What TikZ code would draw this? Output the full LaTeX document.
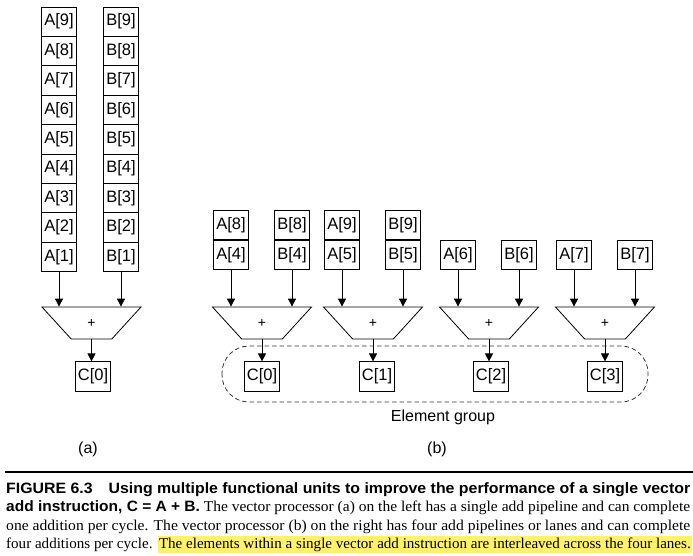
\documentclass[tikz,border=0pt]{standalone}
\usepackage{fontspec}
\usepackage{graphicx}
\setmainfont{Liberation Serif}
\setsansfont{Liberation Sans}
\newfontfamily\capsans{Liberation Sans}
\usetikzlibrary{shapes.geometric,arrows.meta,positioning}
\definecolor{hilite}{RGB}{255,240,110}
\tikzset{
  cell/.style={draw, line width=0.8pt, minimum width=35pt, minimum height=29.4pt,
    inner sep=0pt, font=\sffamily\fontsize{16.5}{16.5}\selectfont},
  adder/.style={draw, line width=0.8pt, trapezium, trapezium angle=126,
    trapezium stretches=true, minimum width=99pt, minimum height=32pt,
    inner sep=0pt, font=\sffamily\fontsize{14}{14}\selectfont},
  feed/.style={-{Triangle[length=8pt,width=8pt]}, line width=0.9pt},
  group/.style={draw=black!80, dashed, dash pattern=on 4.5pt off 3pt, line width=0.8pt, rounded corners=27pt},
  label/.style={font=\sffamily\fontsize{16}{16}\selectfont},
  capline/.style={anchor=base west, inner sep=0pt, font=\fontsize{15}{15}\selectfont}
}
\begin{document}
\begin{tikzpicture}[x=1pt, y=-1pt]
  \useasboundingbox (0,0) rectangle (693,555);
  \foreach \i in {1,...,9} {
    \node[cell] (a\i) at (59, {21.7+(9-\i)*29.4}) {A[\i]};
    \node[cell] (b\i) at (121, {21.7+(9-\i)*29.4}) {B[\i]};
  }
  \node[adder] (add) at (91.5,323) {+};
  \draw[feed] (a1) -- (a1 |- add.north);
  \draw[feed] (b1) -- (b1 |- add.north);
  \node[cell] (c) at (93,376.5) {C[0]};
  \draw[feed] (add.south) -- (add.south |- c.north);
  \node[label] (parta) at (88,449) {(a)};

  \foreach \k/\t/\cx/\n in {0/262/262/4, 1/373/377/5, 2/489/491/6, 3/605/605/7} {
    \node[cell] (la\k) at ({\t-31},255) {A[\n]};
    \node[cell] (lb\k) at ({\t+30},255) {B[\n]};
    \node[adder] (add\k) at (\t,323) {+};
    \draw[feed] (la\k) -- (la\k |- add\k.north);
    \draw[feed] (lb\k) -- (lb\k |- add\k.north);
    \node[cell] (lc\k) at (\cx,376.5) {C[\k]};
    \draw[feed] (add\k.south) -- (add\k.south |- lc\k.north);
  }
  \node[cell] (ua0) [above=0pt of la0] {A[8]};
  \node[cell] (ub0) [above=0pt of lb0] {B[8]};
  \node[cell] (ua1) [above=0pt of la1] {A[9]};
  \node[cell] (ub1) [above=0pt of lb1] {B[9]};
  \draw[group] (222,346) rectangle (648,402);
  \node[label] (grp) at (443,417) {Element group};
  \node[label] (partb) at (437,449) {(b)};

  \draw[line width=1.3pt] (5,472) -- (693,472);
  \node[capline] (cap1) at (6,493) {\resizebox{684pt}{\height}{\capsans\bfseries FIGURE 6.3\hspace{1em}Using multiple functional units to improve the performance of a single vector}};
  \node[capline] (cap2) at (6,511.5) {\resizebox{684pt}{\height}{{\capsans\bfseries add instruction, C = A + B.} The vector processor (a) on the left has a single add pipeline and can complete}};
  \node[capline] (cap3) at (6,530) {\resizebox{684pt}{\height}{one addition per cycle. The vector processor (b) on the right has four add pipelines or lanes and can complete}};
  \node[capline] (cap4) at (6,548.5) {\setlength\fboxsep{1.5pt}\resizebox{686pt}{\height}{four additions per cycle. \colorbox{hilite}{The elements within a single vector add instruction are interleaved across the four lanes.}}};
\end{tikzpicture}
\end{document}
